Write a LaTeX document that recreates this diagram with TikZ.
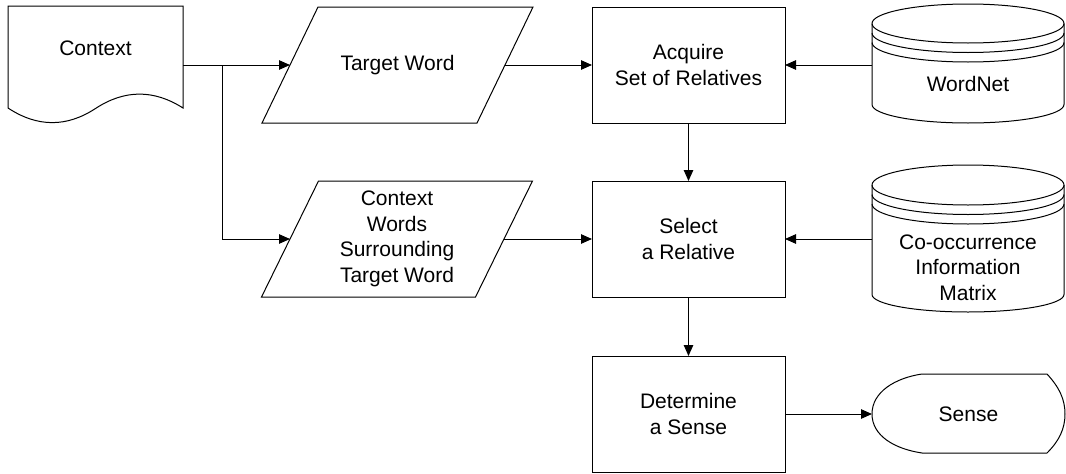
\documentclass[tikz,border=0pt]{standalone}
\usepackage{fontspec}
\setmainfont{Liberation Sans}
\usetikzlibrary{arrows.meta,calc}
\begin{document}
\begin{tikzpicture}[x=1pt,y=1pt,
  ln/.style={line width=1pt, draw=black},
  arr/.style={ln, -{Triangle[length=11pt,width=9.5pt]}},
  holder/.style={inner sep=0pt, outer sep=0pt, draw=none},
  txt/.style={font=\fontsize{21}{25.5}\selectfont, align=center},
  boxnode/.style={holder, txt, draw=black, line width=1pt, minimum width=193pt, minimum height=116pt},
]
\useasboundingbox (0,0) rectangle (1066,-474);

% Context document
\node[holder, minimum width=175pt, minimum height=118pt] (ctx) at (95.5,-65) {};
\draw[ln] (8,-108) -- (8,-6) -- (183,-6) -- (183,-108)
  .. controls (153.7,-89.3) and (124.5,-89.5) .. (95.5,-108.5)
  .. controls (66.5,-127.5) and (37.3,-127.3) .. (8,-108) -- cycle;
\node[txt] (ctxt) at (95.5,-48) {Context};

% Target Word parallelogram
\node[holder, txt, minimum width=215pt, minimum height=116pt] (tw) at (397.5,-65) {Target Word};
\draw[ln] ($(tw.north west)+(28,0)$) -- ($(tw.north east)+(28,0)$) -- ($(tw.south east)+(-28,0)$) -- ($(tw.south west)+(-28,0)$) -- cycle;

% Context words parallelogram
\node[holder, txt, minimum width=214pt, minimum height=116pt] (cw) at (397,-239) {Context\\Words\\Surrounding\\Target Word};
\draw[ln] ($(cw.north west)+(28.5,0)$) -- ($(cw.north east)+(28.5,0)$) -- ($(cw.south east)+(-28.5,0)$) -- ($(cw.south west)+(-28.5,0)$) -- cycle;

% Process boxes
\node[boxnode] (acq) at (688.5,-65) {Acquire\\Set of Relatives};
\node[boxnode] (sel) at (688.5,-239) {Select\\a Relative};
\node[boxnode] (det) at (688.5,-414) {Determine\\a Sense};

% WordNet cylinder
\node[holder, minimum width=192pt, minimum height=119pt] (wn) at (968,-65) {};
\draw[ln] (872,-23.5) arc[start angle=180, end angle=-180, x radius=96pt, y radius=19.5pt];
\draw[ln] (872,-23.5) -- (872,-104.5) arc[start angle=180, end angle=360, x radius=96pt, y radius=18.5pt] -- (1064,-23.5);
\draw[ln] (872,-33) arc[start angle=180, end angle=360, x radius=96pt, y radius=19.5pt];
\draw[ln] (872,-42.5) arc[start angle=180, end angle=360, x radius=96pt, y radius=19.5pt];
\node[txt] (wnt) at (968,-84) {WordNet};

% Co-occurrence cylinder
\node[holder, minimum width=192pt, minimum height=147pt] (co) at (968,-239) {};
\draw[ln] (872,-185) arc[start angle=180, end angle=-180, x radius=96pt, y radius=20pt];
\draw[ln] (872,-185) -- (872,-294.5) arc[start angle=180, end angle=360, x radius=96pt, y radius=17.5pt] -- (1064,-185);
\draw[ln] (872,-194.5) arc[start angle=180, end angle=360, x radius=96pt, y radius=20pt];
\draw[ln] (872,-204) arc[start angle=180, end angle=360, x radius=96pt, y radius=20pt];
\node[txt] (cot) at (968,-267.5) {Co-occurrence\\Information\\Matrix};

% Sense display
\node[holder, txt, minimum width=193pt, minimum height=79pt] (sense) at (968.5,-414) {Sense};
\draw[ln] (922,-374) -- (1047,-374)
  .. controls (1059,-387) and (1065,-399) .. (1065,-414)
  .. controls (1065,-429) and (1059,-441) .. (1047,-453)
  -- (922,-453)
  .. controls (895,-449) and (872,-436) .. (872,-414)
  .. controls (872,-392) and (895,-378) .. (922,-374) -- cycle;

% Connectors
\coordinate (j) at (222,-65);
\draw[arr] (ctx.east) -- (tw.west);
\draw[arr] (j) |- (cw.west);
\draw[arr] (tw.east) -- (acq.west);
\draw[arr] (cw.east) -- (sel.west);
\draw[arr] (wn.west) -- (acq.east);
\draw[arr] (co.west) -- (sel.east);
\draw[arr] (acq.south) -- (sel.north);
\draw[arr] (sel.south) -- (det.north);
\draw[arr] (det.east) -- (sense.west);
\end{tikzpicture}
\end{document}
